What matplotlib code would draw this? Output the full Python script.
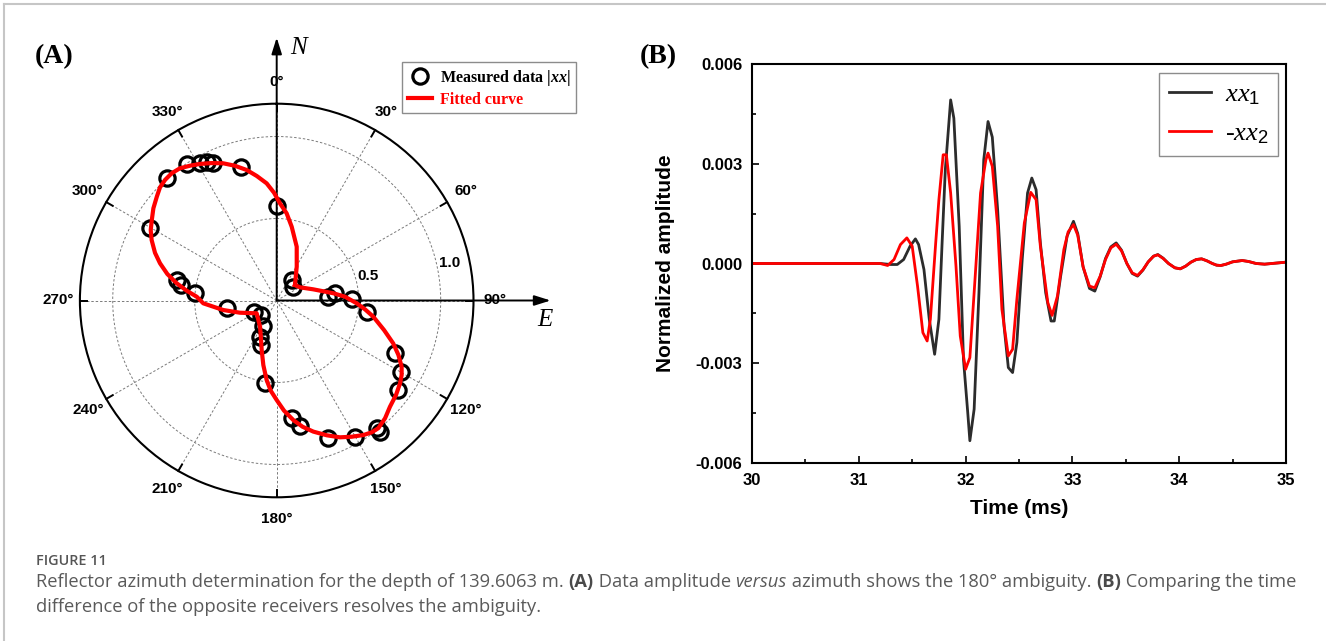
import numpy as np
import matplotlib
matplotlib.use("Agg")
import matplotlib.pyplot as plt
from matplotlib.lines import Line2D

plt.rcParams["font.family"] = ["Liberation Sans", "DejaVu Sans"]
plt.rcParams["mathtext.fontset"] = "custom"
plt.rcParams["mathtext.rm"] = "Liberation Sans"
plt.rcParams["mathtext.it"] = "Liberation Serif:italic"
plt.rcParams["mathtext.bf"] = "Liberation Serif:italic:bold"

# ---- panel A: measured |xx| amplitude vs azimuth (deg, clockwise from N)
meas_theta = [0.4, 344.9, 335.3, 333.2, 330.8, 326.8, 318.2, 299.7, 281.6, 279.0,
              275.5, 261.1, 244.0, 228.0, 208.0, 205.0, 199.0, 188.0, 172.7, 169.5,
              159.5, 150.1, 142.0, 141.8, 126.4, 119.9, 114.0, 97.1, 88.9, 85.8,
              83.0, 50.3, 36.2]
meas_r = [0.576, 0.845, 0.925, 0.948, 0.958, 0.995, 1.000, 0.889, 0.622, 0.590,
          0.500, 0.309, 0.155, 0.130, 0.175, 0.245, 0.285, 0.510, 0.724, 0.778,
          0.897, 0.958, 0.990, 1.018, 0.921, 0.872, 0.790, 0.553, 0.457, 0.315,
          0.360, 0.132, 0.155]

# fitted curve (angles unwrapped, deg)
fit_theta = [49.7, 30.6, 20.4, 11.5, 6.5, 1.9, -1.4, -4.9, -9.1, -12.9,
             -17.2, -21.3, -25.3, -29.3, -32.7, -36.2, -39.5, -42.8, -45.9, -49.1,
             -53.2, -57.2, -60.8, -64.2, -68.6, -72.3, -76.4, -80.2, -83.8, -87.3,
             -92.2, -100.1, -108.4, -122.6, -147.5, -157.4, -163.1, -168.3, -172.8, -176.2,
             -180.0, -183.8, -187.9, -191.6, -195.6, -200.4, -204.8, -208.8, -212.8, -215.8,
             -218.5, -222.6, -226.8, -231.6, -236.1, -239.2, -242.1, -245.9, -249.8, -254.6,
             -260.5, -264.3, -268.0, -273.2, -277.3, -287.0, -299.5, -310.3]
fit_r = [0.146, 0.240, 0.350, 0.459, 0.535, 0.593, 0.657, 0.717, 0.769, 0.816,
         0.860, 0.898, 0.927, 0.955, 0.977, 0.999, 1.006, 1.002, 0.991, 0.967,
         0.939, 0.906, 0.880, 0.847, 0.797, 0.747, 0.686, 0.619, 0.552, 0.488,
         0.448, 0.331, 0.236, 0.145, 0.189, 0.250, 0.315, 0.402, 0.489, 0.551,
         0.607, 0.673, 0.736, 0.786, 0.830, 0.877, 0.919, 0.948, 0.976, 0.991,
         0.995, 0.976, 0.947, 0.928, 0.906, 0.887, 0.862, 0.813, 0.757, 0.679,
         0.597, 0.541, 0.488, 0.417, 0.348, 0.233, 0.163, 0.146]

angle_ticks = list(range(0, 360, 30))

# ---- panel B: waveforms (amplitude in units of 1e-3)
t_xx1 = [30.0, 31.0, 31.2, 31.3, 31.36, 31.42, 31.48, 31.53, 31.56, 31.61,
         31.66, 31.71, 31.75, 31.78, 31.81, 31.86, 31.89, 31.94, 31.98, 32.02,
         32.04, 32.08, 32.125, 32.17, 32.21, 32.25, 32.30, 32.36, 32.40, 32.44,
         32.48, 32.53, 32.58, 32.62, 32.66, 32.70, 32.75, 32.80, 32.83, 32.89,
         32.95, 33.01, 33.05, 33.10, 33.16, 33.21, 33.26, 33.31, 33.36, 33.41,
         33.46, 33.51, 33.56, 33.61, 33.66, 33.71, 33.76, 33.80, 33.85, 33.90,
         33.96, 34.01, 34.06, 34.11, 34.16, 34.21, 34.26, 34.31, 34.35, 34.39,
         34.44, 34.50, 34.59, 34.65, 34.72, 34.80, 34.90, 35.0]
a_xx1 = [0.0, 0.0, 0.0, -0.03, -0.03, 0.12, 0.52, 0.74, 0.57, -0.18,
         -1.68, -2.73, -1.68, 0.62, 2.82, 4.92, 4.37, 1.12, -2.88, -4.48,
         -5.33, -4.38, -0.88, 3.12, 4.27, 3.80, 1.62, -1.88, -3.13, -3.28,
         -2.38, 0.12, 2.12, 2.57, 2.22, 0.62, -0.88, -1.73, -1.73, -0.38,
         0.82, 1.27, 0.90, -0.10, -0.75, -0.83, -0.40, 0.15, 0.50, 0.62,
         0.40, 0.0, -0.30, -0.38, -0.20, 0.05, 0.22, 0.27, 0.16, 0.0,
         -0.13, -0.16, -0.08, 0.04, 0.12, 0.14, 0.08, 0.0, -0.05, -0.06,
         -0.02, 0.05, 0.09, 0.06, 0.0, -0.02, 0.01, 0.04]

t_xx2 = [30.0, 31.0, 31.2, 31.27, 31.33, 31.39, 31.45, 31.50, 31.55, 31.60,
         31.64, 31.67, 31.72, 31.75, 31.79, 31.82, 31.86, 31.91, 31.95, 32.00,
         32.04, 32.09, 32.14, 32.19, 32.21, 32.25, 32.30, 32.34, 32.40, 32.44,
         32.48, 32.55, 32.61, 32.66, 32.70, 32.77, 32.81, 32.86, 32.92, 32.96,
         33.01, 33.05, 33.10, 33.16, 33.21, 33.26, 33.31, 33.36, 33.41, 33.46,
         33.51, 33.56, 33.61, 33.66, 33.71, 33.76, 33.80, 33.85, 33.90, 33.96,
         34.01, 34.06, 34.11, 34.16, 34.21, 34.26, 34.31, 34.35, 34.39, 34.44,
         34.50, 34.59, 34.65, 34.72, 34.80, 34.90, 35.0]
a_xx2 = [0.0, 0.0, 0.0, -0.06, 0.12, 0.57, 0.77, 0.52, -0.68, -2.08,
         -2.33, -1.68, 0.62, 1.92, 3.27, 3.27, 2.12, -0.08, -2.18, -3.18,
         -2.83, -0.38, 2.12, 3.12, 3.32, 2.92, 1.12, -1.38, -2.78, -2.58,
         -1.08, 1.22, 2.14, 1.92, 0.52, -1.18, -1.56, -0.98, 0.42, 0.95,
         1.17, 0.85, -0.10, -0.68, -0.73, -0.38, 0.12, 0.47, 0.58, 0.38,
         0.0, -0.28, -0.36, -0.19, 0.05, 0.22, 0.26, 0.15, 0.0, -0.13,
         -0.16, -0.08, 0.04, 0.12, 0.14, 0.08, 0.0, -0.05, -0.06, -0.02,
         0.05, 0.09, 0.06, 0.0, -0.02, 0.01, 0.04]
amp_unit = 1e-3

x_ticks = [30, 31, 32, 33, 34, 35]
y_ticks = [-0.006, -0.003, 0.0, 0.003, 0.006]
y_tick_labels = ["-0.006", "-0.003", "0.000", "0.003", "0.006"]

W, H = 1326, 641
SERIF = "Liberation Serif"


def fx(px):
    return px / W


def fy(py):
    return 1 - py / H


fig = plt.figure(figsize=(W / 100, H / 100), dpi=100)

# page border (light grey, top and left)
fig.add_artist(Line2D([fx(4), 1], [fy(4), fy(4)], color="#c6c6c6", lw=1.5))
fig.add_artist(Line2D([fx(4), fx(4)], [fy(4), 0], color="#c6c6c6", lw=1.5))

# ================= panel A =================
cx, cy, R = 276.7, 300.5, 196.8
axA = fig.add_axes([fx(cx - R), fy(cy + R), 2 * R / W, 2 * R / H], projection="polar")
axA.set_theta_zero_location("N")
axA.set_theta_direction(-1)
axA.set_ylim(0, 1.2)
axA.set_rgrids([0.5, 1.0], labels=["", ""])
axA.set_thetagrids(angle_ticks, labels=[""] * len(angle_ticks))
axA.grid(True, color="#7a7a7a", lw=0.7, ls=(0, (2.5, 2)))
axA.spines["polar"].set_linewidth(1.5)

axA.plot(np.deg2rad(meas_theta), meas_r, "o", mfc="none", mec="black",
         ms=11, mew=2.3, zorder=3, clip_on=False)
axA.plot(np.deg2rad(fit_theta), fit_r, color="red", lw=3, zorder=4,
         solid_joinstyle="round")

for a in angle_ticks:
    th = np.deg2rad(a)
    axA.plot([th, th], [1.155, 1.2], color="black", lw=1.4, clip_on=False, zorder=2)
    axA.text(th, 1.33, f"{a}°", ha="center", va="center", fontsize=11,
             fontweight="bold")

axA.text(np.deg2rad(75), 0.578, "0.5", ha="center", va="center", fontsize=11,
         fontweight="bold")
axA.text(np.deg2rad(77.7), 1.08, "1.0", ha="center", va="center", fontsize=11,
         fontweight="bold")

arrow = dict(arrowstyle="-|>,head_length=0.7,head_width=0.22", color="black",
             lw=1.4, shrinkA=0, shrinkB=0, mutation_scale=14)
axA.annotate("", xy=(0.5, 1.168), xytext=(0.5, 0.5), xycoords="axes fraction",
             textcoords="axes fraction", arrowprops=arrow, annotation_clip=False)
axA.annotate("", xy=(1.196, 0.5), xytext=(0.5, 0.5), xycoords="axes fraction",
             textcoords="axes fraction", arrowprops=arrow, annotation_clip=False)
fig.text(fx(298), fy(48), "N", fontsize=18, family=SERIF, style="italic",
         ha="center", va="center")
fig.text(fx(545), fy(320), "E", fontsize=18, family=SERIF, style="italic",
         ha="center", va="center")

legA = axA.legend(
    [Line2D([], [], marker="o", ls="none", mfc="none", mec="black", ms=11, mew=2.3),
     Line2D([], [], color="red", lw=3)],
    [r"Measured data |$\mathbf{xx}$|", "Fitted curve"],
    loc="upper right", bbox_to_anchor=(fx(576), fy(62)),
    bbox_transform=fig.transFigure, borderaxespad=0,
    prop=dict(family=SERIF, weight="bold", size=11.5),
    frameon=True, fancybox=False, edgecolor="#8c8c8c", framealpha=1,
    handlelength=1.5, handletextpad=0.5, labelspacing=0.25, borderpad=0.35)
legA.get_frame().set_linewidth(1.0)
legA.get_texts()[1].set_color("red")

fig.text(fx(54), fy(57), "(A)", fontsize=20, family=SERIF, fontweight="bold",
         ha="center", va="center")

# ================= panel B =================
axB = fig.add_axes([fx(752), fy(463), (1286 - 752) / W, (463 - 64) / H])
axB.plot(t_xx1, np.array(a_xx1) * amp_unit, color="#2c2c2c", lw=2.0)
axB.plot(t_xx2, np.array(a_xx2) * amp_unit, color="#ff0000", lw=2.0)
axB.set_xlim(30, 35)
axB.set_ylim(-0.006, 0.006)
axB.set_xticks(x_ticks)
axB.set_xticklabels([str(v) for v in x_ticks])
axB.set_xticks([v + 0.5 for v in x_ticks[:-1]], minor=True)
axB.set_yticks(y_ticks)
axB.set_yticklabels(y_tick_labels)
axB.set_yticks([-0.0045, -0.0015, 0.0015, 0.0045], minor=True)
axB.tick_params(which="both", direction="in", top=False, right=False, width=1.2)
axB.tick_params(which="major", length=5, labelsize=12, pad=7)
axB.tick_params(which="minor", length=3)
for lab in axB.get_xticklabels() + axB.get_yticklabels():
    lab.set_fontweight("bold")
for sp in axB.spines.values():
    sp.set_linewidth(1.5)

axB.set_xlabel("Time (ms)", fontsize=15, fontweight="bold")
axB.xaxis.set_label_coords(0.5, -0.09)
axB.set_ylabel("Normalized amplitude", fontsize=15, fontweight="bold")
axB.yaxis.set_label_coords(-0.144, 0.5)

legB = axB.legend(
    [r"$\mathit{xx}_\mathrm{1}$", r"-$\mathit{xx}_\mathrm{2}$"],
    loc="upper right", bbox_to_anchor=(fx(1278), fy(73)),
    bbox_transform=fig.transFigure, borderaxespad=0,
    prop=dict(family=SERIF, style="italic", size=19),
    frameon=True, fancybox=False, edgecolor="#8c8c8c", framealpha=1,
    handlelength=1.6, handletextpad=0.5, labelspacing=0.55, borderpad=0.38)
legB.get_frame().set_linewidth(1.0)

fig.text(fx(658), fy(57), "(B)", fontsize=20, family=SERIF, fontweight="bold",
         ha="center", va="center")

# ================= caption =================
CAP = dict(family=["Open Sans", "DejaVu Sans"], fontsize=13.2, color="#5a5a5a")
fig.text(fx(36), fy(561), "FIGURE 11", family=["Open Sans", "DejaVu Sans"],
         fontsize=10.4, fontweight="semibold", color="#555555", va="center")

renderer = fig.canvas.get_renderer()


def text_width(txt, kw):
    t1 = fig.text(0, 0, "|" + txt + "|", **kw)
    t2 = fig.text(0, 0, "||", **kw)
    w = t1.get_window_extent(renderer).width - t2.get_window_extent(renderer).width
    t1.remove()
    t2.remove()
    return w


def caption_line(y, parts, x0=36):
    x = x0
    for txt, extra in parts:
        kw = dict(CAP, **extra)
        fig.text(fx(x), fy(y), txt, va="center", **kw)
        x += text_width(txt, kw)


bold = dict(fontweight="bold", color="#4a4a4a")
ital = dict(style="italic")
caption_line(582, [
    ("Reflector azimuth determination for the depth of 139.6063 m. ", {}),
    ("(A)", bold),
    (" Data amplitude ", {}),
    ("versus", ital),
    (" azimuth shows the 180° ambiguity. ", {}),
    ("(B)", bold),
    (" Comparing the time", {}),
])
caption_line(607, [
    ("difference of the opposite receivers resolves the ambiguity.", {}),
])

fig.savefig("out.png", dpi=100)
